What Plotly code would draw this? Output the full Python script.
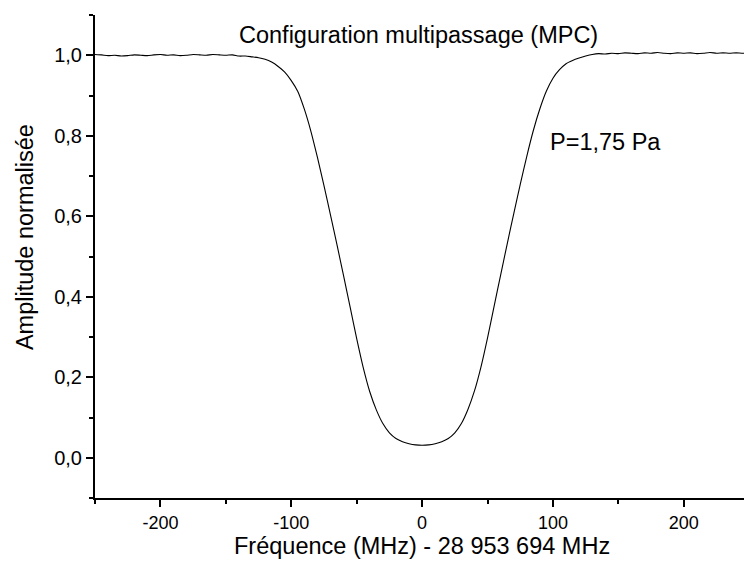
import plotly.graph_objects as go

# frequency offset (MHz) and normalised amplitude
freq = [-250, -245, -240, -235, -230, -225, -220, -215, -210, -205,
        -200, -195, -190, -185, -180, -175, -170, -165, -160, -155,
        -150, -145, -140, -135, -130, -125, -120, -115, -110, -105,
        -100, -95, -90, -85, -80, -75, -70, -65, -60, -55,
        -50, -45, -40, -35, -30, -25, -20, -15, -10, -5,
        0, 5, 10, 15, 20, 25, 30, 35, 40, 45,
        50, 55, 60, 65, 70, 75, 80, 85, 90, 95,
        100, 105, 110, 115, 120, 125, 130, 135, 140, 145,
        150, 155, 160, 165, 170, 175, 180, 185, 190, 195,
        200, 205, 210, 215, 220, 225, 230, 235, 240, 245, 250]

amplitude = [1.002, 1.001, 0.999, 1.000, 0.998, 0.999, 1.001, 1.000, 0.999, 1.001,
             1.002, 1.000, 1.001, 0.999, 1.000, 1.002, 1.001, 1.000, 1.002, 1.001,
             1.000, 1.001, 0.998, 0.998, 0.996, 0.994, 0.990, 0.983, 0.972, 0.958,
             0.937, 0.910, 0.866, 0.811, 0.746, 0.676, 0.603, 0.528, 0.452, 0.374,
             0.296, 0.224, 0.164, 0.119, 0.085, 0.062, 0.048, 0.040, 0.035, 0.032,
             0.031, 0.032, 0.035, 0.040, 0.048, 0.062, 0.085, 0.120, 0.166, 0.226,
             0.298, 0.376, 0.454, 0.531, 0.606, 0.679, 0.749, 0.813, 0.867, 0.911,
             0.943, 0.964, 0.979, 0.987, 0.993, 0.998, 1.002, 1.004, 1.003, 1.005,
             1.004, 1.006, 1.005, 1.004, 1.006, 1.005, 1.007, 1.005, 1.004, 1.006,
             1.005, 1.006, 1.004, 1.005, 1.007, 1.005, 1.006, 1.005, 1.006, 1.005, 1.006]

x_ticks = [-200, -100, 0, 100, 200]
x_tick_labels = ["-200", "-100", "0", "100", "200"]

FONT = "Liberation Sans, Arial, sans-serif"

fig = go.Figure()
fig.add_trace(go.Scatter(x=freq, y=amplitude, mode="lines",
                         line=dict(color="black", width=1.1, shape="spline", smoothing=0.6),
                         showlegend=False, hoverinfo="skip"))

axis_common = dict(showline=True, linecolor="black", linewidth=2,
                   ticks="outside", ticklen=7, tickwidth=2, tickcolor="black",
                   showgrid=False, zeroline=False, mirror=False)

fig.update_xaxes(range=[-250, 246], tickmode="array", tickvals=x_ticks, ticktext=x_tick_labels,
                 tickfont=dict(family=FONT, size=18, color="black"),
                 minor=dict(ticks="outside", ticklen=4, tickwidth=2, tickcolor="black", dtick=50, tick0=0),
                 **axis_common)
fig.update_yaxes(range=[-0.1, 1.1], dtick=0.2, tick0=0, tickformat=".1f",
                 tickfont=dict(family=FONT, size=20, color="black"),
                 minor=dict(ticks="outside", ticklen=4, tickwidth=2, tickcolor="black", dtick=0.1, tick0=0),
                 **axis_common)

text_font = dict(family=FONT, size=23.5, color="black")
fig.add_annotation(x=-2.5, y=1.05, xref="x", yref="y", text="Configuration multipassage (MPC)",
                   showarrow=False, font=text_font, xanchor="center", yanchor="middle")
fig.add_annotation(x=96, y=0.784, xref="x", yref="y", text="P=1,75 Pa",
                   showarrow=False, font=text_font, xanchor="left", yanchor="middle")
fig.add_annotation(x=0, y=-0.099, xref="x", yref="paper", text="Fréquence (MHz) - 28 953 694 MHz",
                   showarrow=False, font=text_font, xanchor="center", yanchor="middle")
fig.add_annotation(x=-0.108, y=0.54, xref="paper", yref="paper", text="Amplitude normalisée",
                   showarrow=False, font=text_font, textangle=-90, xanchor="center", yanchor="middle")

fig.update_layout(width=744, height=561,
                  margin=dict(l=95, r=0, t=15, b=63),
                  paper_bgcolor="white", plot_bgcolor="white",
                  separators=", ")

# the page body has a default 8px margin; drop it so the figure sits at the window corner
fig.write_html("out.html", config={"displayModeBar": False},
               post_script="document.body.style.margin = '0';")
